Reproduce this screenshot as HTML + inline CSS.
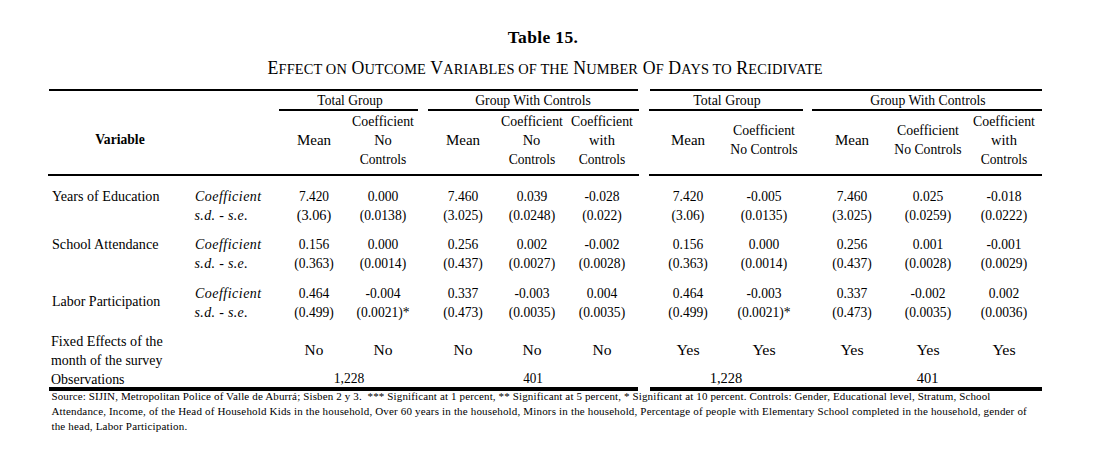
<!DOCTYPE html>
<html><head><meta charset="utf-8"><title>Table 15</title>
<style>
html,body{margin:0;padding:0;background:#fff;}
body{width:1099px;height:476px;position:relative;overflow:hidden;font-family:"Liberation Serif","Times New Roman",serif;font-size:14.5px;color:#000;}
div{position:absolute;white-space:nowrap;line-height:19px;}
.r{background:#000;}
.b{font-weight:bold;}
.i{font-style:italic;}
.k{font-size:0.81em;text-transform:uppercase;}
</style></head><body>
<div class="b" style="top:27.99px;left:423.00px;width:240px;text-align:center;font-size:17.5px;letter-spacing:0.350px;">Table 15.</div>
<div style="top:58.79px;left:145.20px;width:800px;text-align:center;font-size:17.8px;letter-spacing:0.117px;">E<span class="k">ffect on</span> O<span class="k">utcome</span> V<span class="k">ariables of the</span> N<span class="k">umber</span> O<span class="k">f</span> D<span class="k">ays to</span> R<span class="k">ecidivate</span></div>
<div class="r" style="left:49px;width:589px;top:89px;height:2px"></div>
<div class="r" style="left:650px;width:392px;top:89px;height:2px"></div>
<div class="r" style="left:279px;width:139px;top:109px;height:2px"></div>
<div class="r" style="left:428px;width:211px;top:109px;height:2px"></div>
<div class="r" style="left:649px;width:154px;top:109px;height:2px"></div>
<div class="r" style="left:812px;width:230px;top:109px;height:2px"></div>
<div class="r" style="left:48px;width:591px;top:174px;height:2px"></div>
<div class="r" style="left:649px;width:393px;top:174px;height:2px"></div>
<div class="r" style="left:49px;width:589px;top:387px;height:4px"></div>
<div class="r" style="left:650px;width:392px;top:387px;height:4px"></div>
<div style="top:91.11px;left:229.50px;width:240px;text-align:center;transform:scaleX(0.9286);">Total Group</div>
<div style="top:91.11px;left:413.00px;width:240px;text-align:center;transform:scaleX(0.9444);">Group With Controls</div>
<div style="top:91.11px;left:607.00px;width:240px;text-align:center;transform:scaleX(0.9574);">Total Group</div>
<div style="top:91.11px;left:807.50px;width:240px;text-align:center;transform:scaleX(0.9427);">Group With Controls</div>
<div class="b" style="top:129.94px;left:0.00px;width:240px;text-align:center;font-size:15px;transform:scaleX(0.9074);">Variable</div>
<div style="top:131.01px;left:194.00px;width:240px;text-align:center;transform:scaleX(1.0325);">Mean</div>
<div style="top:111.61px;left:263.00px;width:240px;text-align:center;transform:scaleX(0.9534);">Coefficient</div>
<div style="top:131.01px;left:263.00px;width:240px;text-align:center;">No</div>
<div style="top:149.86px;left:263.00px;width:240px;text-align:center;transform:scaleX(0.9331);">Controls</div>
<div style="top:131.01px;left:342.50px;width:240px;text-align:center;transform:scaleX(1.0325);">Mean</div>
<div style="top:111.61px;left:411.50px;width:240px;text-align:center;transform:scaleX(0.9534);">Coefficient</div>
<div style="top:131.01px;left:411.50px;width:240px;text-align:center;">No</div>
<div style="top:149.86px;left:411.50px;width:240px;text-align:center;transform:scaleX(0.9331);">Controls</div>
<div style="top:111.61px;left:482.00px;width:240px;text-align:center;transform:scaleX(0.9534);">Coefficient</div>
<div style="top:131.01px;left:482.00px;width:240px;text-align:center;">with</div>
<div style="top:149.86px;left:482.00px;width:240px;text-align:center;transform:scaleX(0.9331);">Controls</div>
<div style="top:131.01px;left:568.00px;width:240px;text-align:center;transform:scaleX(1.0325);">Mean</div>
<div style="top:121.11px;left:644.00px;width:240px;text-align:center;transform:scaleX(0.9534);">Coefficient</div>
<div style="top:139.86px;left:644.00px;width:240px;text-align:center;transform:scaleX(0.9440);">No Controls</div>
<div style="top:131.01px;left:731.50px;width:240px;text-align:center;transform:scaleX(1.0325);">Mean</div>
<div style="top:121.11px;left:808.00px;width:240px;text-align:center;transform:scaleX(0.9534);">Coefficient</div>
<div style="top:139.86px;left:808.00px;width:240px;text-align:center;transform:scaleX(0.9440);">No Controls</div>
<div style="top:111.61px;left:884.00px;width:240px;text-align:center;transform:scaleX(0.9534);">Coefficient</div>
<div style="top:131.01px;left:884.00px;width:240px;text-align:center;">with</div>
<div style="top:149.86px;left:884.00px;width:240px;text-align:center;transform:scaleX(0.9331);">Controls</div>
<div style="top:186.61px;left:51.50px;transform:scaleX(0.9728);transform-origin:0 0;">Years of Education</div>
<div class="i" style="top:186.78px;left:195.00px;font-size:14px;letter-spacing:0.480px;">Coefficient</div>
<div class="i" style="top:205.78px;left:194.50px;font-size:14px;letter-spacing:0.340px;">s.d. - s.e.</div>
<div style="top:186.61px;left:194.00px;width:240px;text-align:center;transform:scaleX(0.9234);">7.420</div>
<div style="top:205.91px;left:194.00px;width:240px;text-align:center;transform:scaleX(0.9864);">(3.06)</div>
<div style="top:186.61px;left:263.00px;width:240px;text-align:center;transform:scaleX(0.9419);">0.000</div>
<div style="top:205.91px;left:263.00px;width:240px;text-align:center;transform:scaleX(0.9381);">(0.0138)</div>
<div style="top:186.61px;left:342.50px;width:240px;text-align:center;transform:scaleX(0.9350);">7.460</div>
<div style="top:205.91px;left:342.50px;width:240px;text-align:center;transform:scaleX(0.9350);">(3.025)</div>
<div style="top:186.61px;left:411.50px;width:240px;text-align:center;transform:scaleX(0.9350);">0.039</div>
<div style="top:205.91px;left:411.50px;width:240px;text-align:center;transform:scaleX(0.9350);">(0.0248)</div>
<div style="top:186.61px;left:482.00px;width:240px;text-align:center;transform:scaleX(0.9350);">-0.028</div>
<div style="top:205.91px;left:482.00px;width:240px;text-align:center;transform:scaleX(0.9350);">(0.022)</div>
<div style="top:186.61px;left:568.00px;width:240px;text-align:center;transform:scaleX(0.9350);">7.420</div>
<div style="top:205.91px;left:568.00px;width:240px;text-align:center;transform:scaleX(0.9350);">(3.06)</div>
<div style="top:186.61px;left:644.00px;width:240px;text-align:center;transform:scaleX(0.9350);">-0.005</div>
<div style="top:205.91px;left:644.00px;width:240px;text-align:center;transform:scaleX(0.9350);">(0.0135)</div>
<div style="top:186.61px;left:731.50px;width:240px;text-align:center;transform:scaleX(0.9350);">7.460</div>
<div style="top:205.91px;left:731.50px;width:240px;text-align:center;transform:scaleX(0.9350);">(3.025)</div>
<div style="top:186.61px;left:808.00px;width:240px;text-align:center;transform:scaleX(0.9350);">0.025</div>
<div style="top:205.91px;left:808.00px;width:240px;text-align:center;transform:scaleX(0.9350);">(0.0259)</div>
<div style="top:186.61px;left:884.00px;width:240px;text-align:center;transform:scaleX(0.9350);">-0.018</div>
<div style="top:205.91px;left:884.00px;width:240px;text-align:center;transform:scaleX(0.9350);">(0.0222)</div>
<div style="top:235.11px;left:51.50px;transform:scaleX(0.9758);transform-origin:0 0;">School Attendance</div>
<div class="i" style="top:235.28px;left:195.00px;font-size:14px;letter-spacing:0.480px;">Coefficient</div>
<div class="i" style="top:254.28px;left:194.50px;font-size:14px;letter-spacing:0.340px;">s.d. - s.e.</div>
<div style="top:235.11px;left:194.00px;width:240px;text-align:center;transform:scaleX(0.9350);">0.156</div>
<div style="top:254.41px;left:194.00px;width:240px;text-align:center;transform:scaleX(0.9350);">(0.363)</div>
<div style="top:235.11px;left:263.00px;width:240px;text-align:center;transform:scaleX(0.9350);">0.000</div>
<div style="top:254.41px;left:263.00px;width:240px;text-align:center;transform:scaleX(0.9350);">(0.0014)</div>
<div style="top:235.11px;left:342.50px;width:240px;text-align:center;transform:scaleX(0.9350);">0.256</div>
<div style="top:254.41px;left:342.50px;width:240px;text-align:center;transform:scaleX(0.9350);">(0.437)</div>
<div style="top:235.11px;left:411.50px;width:240px;text-align:center;transform:scaleX(0.9350);">0.002</div>
<div style="top:254.41px;left:411.50px;width:240px;text-align:center;transform:scaleX(0.9350);">(0.0027)</div>
<div style="top:235.11px;left:482.00px;width:240px;text-align:center;transform:scaleX(0.9350);">-0.002</div>
<div style="top:254.41px;left:482.00px;width:240px;text-align:center;transform:scaleX(0.9350);">(0.0028)</div>
<div style="top:235.11px;left:568.00px;width:240px;text-align:center;transform:scaleX(0.9350);">0.156</div>
<div style="top:254.41px;left:568.00px;width:240px;text-align:center;transform:scaleX(0.9350);">(0.363)</div>
<div style="top:235.11px;left:644.00px;width:240px;text-align:center;transform:scaleX(0.9350);">0.000</div>
<div style="top:254.41px;left:644.00px;width:240px;text-align:center;transform:scaleX(0.9350);">(0.0014)</div>
<div style="top:235.11px;left:731.50px;width:240px;text-align:center;transform:scaleX(0.9350);">0.256</div>
<div style="top:254.41px;left:731.50px;width:240px;text-align:center;transform:scaleX(0.9350);">(0.437)</div>
<div style="top:235.11px;left:808.00px;width:240px;text-align:center;transform:scaleX(0.9350);">0.001</div>
<div style="top:254.41px;left:808.00px;width:240px;text-align:center;transform:scaleX(0.9350);">(0.0028)</div>
<div style="top:235.11px;left:884.00px;width:240px;text-align:center;transform:scaleX(0.9350);">-0.001</div>
<div style="top:254.41px;left:884.00px;width:240px;text-align:center;transform:scaleX(0.9350);">(0.0029)</div>
<div style="top:292.11px;left:51.50px;transform:scaleX(0.9640);transform-origin:0 0;">Labor Participation</div>
<div class="i" style="top:283.97px;left:195.00px;font-size:14px;letter-spacing:0.480px;">Coefficient</div>
<div class="i" style="top:302.97px;left:194.50px;font-size:14px;letter-spacing:0.340px;">s.d. - s.e.</div>
<div style="top:283.81px;left:194.00px;width:240px;text-align:center;transform:scaleX(0.9350);">0.464</div>
<div style="top:303.11px;left:194.00px;width:240px;text-align:center;transform:scaleX(0.9350);">(0.499)</div>
<div style="top:283.81px;left:263.00px;width:240px;text-align:center;transform:scaleX(0.9350);">-0.004</div>
<div style="top:303.11px;left:263.00px;width:240px;text-align:center;transform:scaleX(0.9350);">(0.0021)*</div>
<div style="top:283.81px;left:342.50px;width:240px;text-align:center;transform:scaleX(0.9350);">0.337</div>
<div style="top:303.11px;left:342.50px;width:240px;text-align:center;transform:scaleX(0.9350);">(0.473)</div>
<div style="top:283.81px;left:411.50px;width:240px;text-align:center;transform:scaleX(0.9350);">-0.003</div>
<div style="top:303.11px;left:411.50px;width:240px;text-align:center;transform:scaleX(0.9350);">(0.0035)</div>
<div style="top:283.81px;left:482.00px;width:240px;text-align:center;transform:scaleX(0.9350);">0.004</div>
<div style="top:303.11px;left:482.00px;width:240px;text-align:center;transform:scaleX(0.9350);">(0.0035)</div>
<div style="top:283.81px;left:568.00px;width:240px;text-align:center;transform:scaleX(0.9350);">0.464</div>
<div style="top:303.11px;left:568.00px;width:240px;text-align:center;transform:scaleX(0.9350);">(0.499)</div>
<div style="top:283.81px;left:644.00px;width:240px;text-align:center;transform:scaleX(0.9350);">-0.003</div>
<div style="top:303.11px;left:644.00px;width:240px;text-align:center;transform:scaleX(0.9350);">(0.0021)*</div>
<div style="top:283.81px;left:731.50px;width:240px;text-align:center;transform:scaleX(0.9350);">0.337</div>
<div style="top:303.11px;left:731.50px;width:240px;text-align:center;transform:scaleX(0.9350);">(0.473)</div>
<div style="top:283.81px;left:808.00px;width:240px;text-align:center;transform:scaleX(0.9350);">-0.002</div>
<div style="top:303.11px;left:808.00px;width:240px;text-align:center;transform:scaleX(0.9350);">(0.0035)</div>
<div style="top:283.81px;left:884.00px;width:240px;text-align:center;transform:scaleX(0.9350);">0.002</div>
<div style="top:303.11px;left:884.00px;width:240px;text-align:center;transform:scaleX(0.9350);">(0.0036)</div>
<div style="top:331.91px;left:51.00px;transform:scaleX(0.9755);transform-origin:0 0;">Fixed Effects of the</div>
<div style="top:350.81px;left:51.00px;transform:scaleX(0.9569);transform-origin:0 0;">month of the survey</div>
<div style="top:340.61px;left:194.00px;width:240px;text-align:center;transform:scaleX(1.0565);">No</div>
<div style="top:340.61px;left:263.00px;width:240px;text-align:center;transform:scaleX(1.0750);">No</div>
<div style="top:340.61px;left:342.50px;width:240px;text-align:center;transform:scaleX(1.0750);">No</div>
<div style="top:340.61px;left:411.50px;width:240px;text-align:center;transform:scaleX(1.0750);">No</div>
<div style="top:340.61px;left:482.00px;width:240px;text-align:center;transform:scaleX(1.0750);">No</div>
<div style="top:340.61px;left:568.00px;width:240px;text-align:center;transform:scaleX(1.1000);">Yes</div>
<div style="top:340.61px;left:644.00px;width:240px;text-align:center;transform:scaleX(1.1000);">Yes</div>
<div style="top:340.61px;left:731.50px;width:240px;text-align:center;transform:scaleX(1.1000);">Yes</div>
<div style="top:340.61px;left:808.00px;width:240px;text-align:center;transform:scaleX(1.1000);">Yes</div>
<div style="top:340.61px;left:884.00px;width:240px;text-align:center;transform:scaleX(1.1000);">Yes</div>
<div style="top:369.71px;left:51.30px;transform:scaleX(0.9610);transform-origin:0 0;">Observations</div>
<div style="top:369.11px;left:229.00px;width:240px;text-align:center;transform:scaleX(0.9372);">1,228</div>
<div style="top:369.11px;left:413.00px;width:240px;text-align:center;transform:scaleX(0.9078);">401</div>
<div style="top:369.11px;left:606.00px;width:240px;text-align:center;">1,228</div>
<div style="top:369.11px;left:807.50px;width:240px;text-align:center;">401</div>
<div style="top:386.89px;left:51.40px;font-size:11px;letter-spacing:0.133px;">Source: SIJIN, Metropolitan Police of Valle de Aburr&aacute;; Sisben 2 y 3.&nbsp; *** Significant at 1 percent, ** Significant at 5 percent, * Significant at 10 percent. Controls: Gender, Educational level, Stratum, School</div>
<div style="top:402.19px;left:51.40px;font-size:11px;letter-spacing:0.171px;">Attendance, Income, of the Head of Household Kids in the household, Over 60 years in the household, Minors in the household, Percentage of people with Elementary School completed in the household, gender of</div>
<div style="top:417.09px;left:51.40px;font-size:11px;letter-spacing:0.186px;">the head, Labor Participation.</div>
</body></html>
